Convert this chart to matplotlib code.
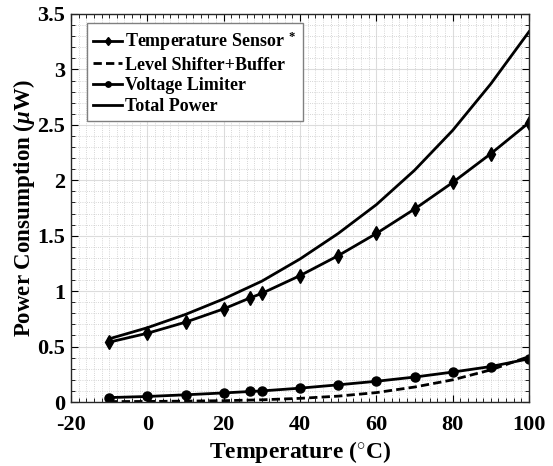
import matplotlib
import matplotlib.pyplot as plt
from matplotlib.ticker import MultipleLocator

matplotlib.use("Agg")
plt.rcParams["font.family"] = ["Liberation Serif", "DejaVu Serif"]
plt.rcParams["font.weight"] = "bold"
plt.rcParams["axes.unicode_minus"] = False
plt.rcParams["mathtext.fontset"] = "custom"
plt.rcParams["mathtext.rm"] = "Liberation Serif:bold"
plt.rcParams["mathtext.it"] = "Liberation Serif:italic:bold"
plt.rcParams["mathtext.bf"] = "Liberation Serif:bold"

# temperatures (degC) and power per block (uW)
temp_sensor_x = [-10, 0, 10, 20, 27, 30, 40, 50, 60, 70, 80, 90, 100]
temp_sensor_y = [0.54, 0.62, 0.72, 0.84, 0.94, 0.98, 1.14, 1.32, 1.52, 1.74, 1.98, 2.24, 2.52]

shifter_x = [-10, 0, 10, 20, 30, 40, 50, 60, 70, 80, 90, 100]
shifter_y = [0.004, 0.005, 0.008, 0.012, 0.02, 0.033, 0.053, 0.085, 0.135, 0.2, 0.29, 0.41]

limiter_x = [-10, 0, 10, 20, 27, 30, 40, 50, 60, 70, 80, 90, 100]
limiter_y = [0.04, 0.05, 0.065, 0.082, 0.095, 0.10, 0.125, 0.155, 0.187, 0.225, 0.27, 0.32, 0.39]

total_x = [-10, 0, 10, 20, 30, 40, 50, 60, 70, 80, 90, 100]
total_y = [0.57, 0.67, 0.79, 0.93, 1.09, 1.29, 1.52, 1.78, 2.09, 2.45, 2.87, 3.34]

y_ticks = [0, 0.5, 1, 1.5, 2, 2.5, 3, 3.5]
y_tick_labels = ["0", "0.5", "1", "1.5", "2", "2.5", "3", "3.5"]

fig = plt.figure(figsize=(5.53, 4.66), dpi=100)
ax = fig.add_axes([0.1284, 0.1373, 0.8282, 0.8327])

ax.plot(temp_sensor_x, temp_sensor_y, "k-", marker="d", markersize=7.5, linewidth=2,
        label="Temperature Sensor$^{\\ *}$")
ax.plot(shifter_x, shifter_y, "k", linestyle=(0, (3, 1.5)), linewidth=2,
        label="Level Shifter+Buffer")
ax.plot(limiter_x, limiter_y, "k-", marker="o", markersize=6.5, linewidth=2,
        label="Voltage Limiter")
ax.plot(total_x, total_y, "k-", linewidth=2, label="Total Power")

ax.set_xlim(-20, 100)
ax.set_ylim(0, 3.5)
ax.xaxis.set_major_locator(MultipleLocator(20))
ax.xaxis.set_minor_locator(MultipleLocator(2))
ax.set_yticks(y_ticks, y_tick_labels)
ax.yaxis.set_minor_locator(MultipleLocator(0.1))

ax.grid(True, which="major", color="#dcdcdc", linewidth=0.8)
ax.grid(True, which="minor", color="#c8c8c8", linestyle=":", linewidth=0.6)
ax.set_axisbelow(True)
ax.tick_params(which="both", direction="in", top=True, right=True, labelsize=16)
ax.tick_params(axis="x", pad=9)
ax.tick_params(axis="y", pad=4)
ax.tick_params(which="major", length=5)
ax.tick_params(which="minor", length=3)
for lbl in ax.get_xticklabels() + ax.get_yticklabels():
    lbl.set_fontweight("bold")
for sp in ax.spines.values():
    sp.set_linewidth(1.0)
    sp.set_color("#262626")

ax.set_xlabel("Temperature ($^{\\circ}$C)", fontsize=17, fontweight="bold")
ax.set_ylabel("Power Consumption ($\\mu$W)", fontsize=16.5, fontweight="bold")
ax.xaxis.set_label_coords(0.5, -0.095)
ax.yaxis.set_label_coords(-0.074, 0.5)

leg = ax.legend(loc="upper left", bbox_to_anchor=(0.035, 0.976), borderaxespad=0,
                handlelength=1.6, handletextpad=0.15, borderpad=0.35, labelspacing=0.2,
                markerscale=0.6, fancybox=False, framealpha=1, edgecolor="#808080",
                prop={"weight": "bold", "size": 13})
leg.get_frame().set_linewidth(1.0)

fig.savefig("out.png", dpi=100)
